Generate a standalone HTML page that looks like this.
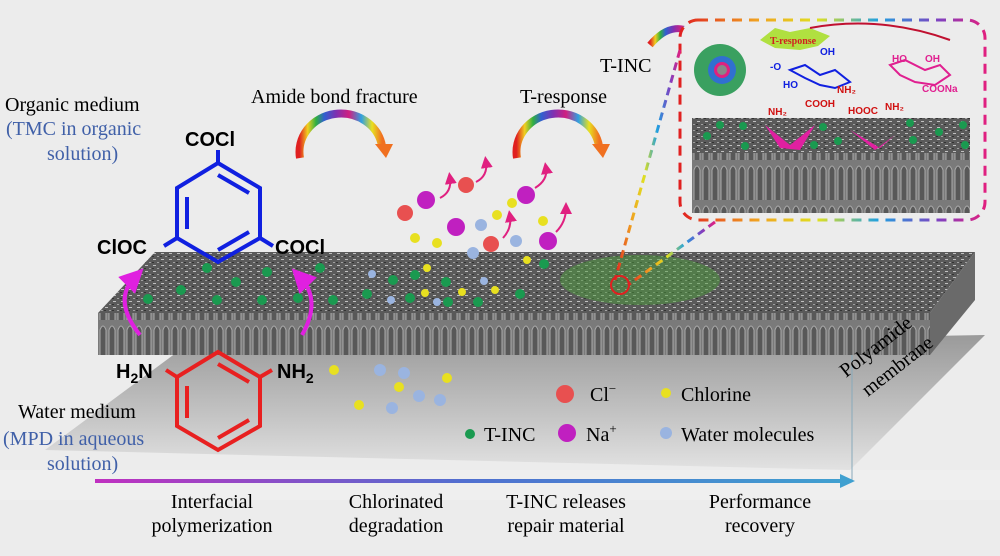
<!DOCTYPE html>
<html><head><meta charset="utf-8"><style>
body{margin:0;background:#ececec}
svg{display:block}
text{font-family:"Liberation Serif",serif}
.b{font-family:"Liberation Sans",sans-serif;font-weight:bold}
</style></head><body>
<svg width="1000" height="556" viewBox="0 0 1000 556" xmlns="http://www.w3.org/2000/svg">
<defs>
<linearGradient id="pl" x1="0" y1="0" x2="0" y2="1"><stop offset="0" stop-color="#9a9a9a"/><stop offset="0.6" stop-color="#c4c4c4"/><stop offset="1" stop-color="#e2e2e2"/></linearGradient>
<linearGradient id="ar" x1="0" x2="1"><stop offset="0" stop-color="#c030c0"/><stop offset="0.5" stop-color="#5070d0"/><stop offset="1" stop-color="#40a0d0"/></linearGradient>
<linearGradient id="rb" x1="0" x2="1"><stop offset="0" stop-color="#e02020"/><stop offset="0.25" stop-color="#f0a020"/><stop offset="0.45" stop-color="#e0e020"/><stop offset="0.65" stop-color="#20a0e0"/><stop offset="0.85" stop-color="#8040c0"/><stop offset="1" stop-color="#e02080"/></linearGradient>
<linearGradient id="arc" x1="0" x2="1"><stop offset="0" stop-color="#e02020"/><stop offset="0.1" stop-color="#f0d020"/><stop offset="0.2" stop-color="#30b040"/><stop offset="0.3" stop-color="#3060d0"/><stop offset="0.45" stop-color="#8030b0"/><stop offset="0.6" stop-color="#d02080"/><stop offset="0.75" stop-color="#30a0e0"/><stop offset="0.88" stop-color="#e8e020"/><stop offset="1" stop-color="#f07020"/></linearGradient>
<pattern id="tx" width="8" height="6" patternUnits="userSpaceOnUse"><rect width="8" height="6" fill="#5a5a5a"/><rect x="1" y="1" width="3" height="1" fill="#c0c0c0"/><rect x="5" y="4" width="2" height="1" fill="#a0a0a0"/><rect x="0" y="4" width="2" height="1" fill="#333"/></pattern>
<pattern id="fr" width="9" height="40" patternUnits="userSpaceOnUse"><rect width="9" height="40" fill="#7a7a7a"/><path d="M1 40 V10 Q4 2 7 10 V40" fill="#585858" stroke="#aaa" stroke-width="1"/></pattern>
<marker id="ah" markerWidth="6" markerHeight="6" refX="3" refY="3" orient="auto"><path d="M0 0L6 3L0 6z" fill="#e020e0"/></marker>
<marker id="sm" markerWidth="6" markerHeight="6" refX="3" refY="3" orient="auto"><path d="M0 0L6 3L0 6z" fill="#e02080"/></marker>
</defs>
<!-- plane -->
<polygon points="180,350 985,335 850,470 45,450" fill="url(#pl)"/>
<rect x="0" y="470" width="1000" height="30" fill="#efefef"/>
<line x1="852" y1="340" x2="852" y2="480" stroke="#8ab" stroke-width="1"/>
<!-- slab -->
<polygon points="98,313 155,252 975,252 930,313" fill="url(#tx)"/>
<rect x="98" y="313" width="832" height="42" fill="url(#fr)"/>
<polygon points="930,313 975,252 975,300 930,355" fill="#6a6a6a"/>
<ellipse cx="640" cy="280" rx="80" ry="25" fill="#4c9c3c" opacity="0.5"/>
<g fill="#1a9a50">
<circle cx="207" cy="268" r="5"/><circle cx="267" cy="272" r="5"/><circle cx="320" cy="268" r="5"/><circle cx="236" cy="282" r="5"/><circle cx="181" cy="290" r="5"/><circle cx="262" cy="300" r="5"/><circle cx="298" cy="298" r="5"/><circle cx="148" cy="299" r="5"/><circle cx="217" cy="300" r="5"/><circle cx="333" cy="300" r="5"/><circle cx="367" cy="294" r="5"/><circle cx="393" cy="280" r="5"/><circle cx="415" cy="275" r="5"/><circle cx="410" cy="298" r="5"/><circle cx="446" cy="282" r="5"/><circle cx="448" cy="302" r="5"/><circle cx="478" cy="302" r="5"/><circle cx="520" cy="294" r="5"/><circle cx="544" cy="264" r="5"/>
</g>
<g fill="#e8e020"><circle cx="427" cy="268" r="4"/><circle cx="425" cy="293" r="4"/><circle cx="462" cy="292" r="4"/><circle cx="495" cy="290" r="4"/><circle cx="527" cy="260" r="4"/></g>
<g fill="#9ab4e0"><circle cx="372" cy="274" r="4"/><circle cx="437" cy="302" r="4"/><circle cx="484" cy="281" r="4"/><circle cx="391" cy="300" r="4"/></g>
<g stroke="#1020e0" stroke-width="4" fill="none">
<polygon points="218,163 260,188 260,238 218,262 177,238 177,188"/>
<line x1="218" y1="175" x2="249" y2="193"/><line x1="187" y1="197" x2="187" y2="229"/><line x1="218" y1="250" x2="249" y2="232"/>
<line x1="218" y1="163" x2="218" y2="150"/><line x1="177" y1="238" x2="164" y2="246"/><line x1="260" y1="238" x2="273" y2="246"/>
</g>
<text class="b" x="185" y="146" font-size="20">COCl</text>
<text class="b" x="97" y="254" font-size="20">ClOC</text>
<text class="b" x="275" y="254" font-size="20">COCl</text>
<g stroke="#e82020" stroke-width="4" fill="none">
<polygon points="218,352 260,377 260,426 218,450 177,426 177,377"/>
<line x1="218" y1="364" x2="249" y2="382"/><line x1="187" y1="386" x2="187" y2="418"/><line x1="218" y1="438" x2="249" y2="420"/>
<line x1="177" y1="377" x2="166" y2="370"/><line x1="260" y1="377" x2="272" y2="370"/>
</g>
<text class="b" x="116" y="378" font-size="20">H<tspan font-size="14" dy="5">2</tspan><tspan dy="-5">N</tspan></text>
<text class="b" x="277" y="378" font-size="20">NH<tspan font-size="14" dy="5">2</tspan></text>
<g stroke="#e020e0" stroke-width="4" fill="none">
<path d="M140 335 Q112 300 135 277" marker-end="url(#ah)"/>
<path d="M302 335 Q322 300 300 277" marker-end="url(#ah)"/>
</g>
<text x="5" y="111" font-size="20">Organic medium</text>
<text x="6" y="135" font-size="20" fill="#4060a8">(TMC in organic</text>
<text x="47" y="160" font-size="20" fill="#4060a8">solution)</text>
<text x="18" y="418" font-size="20">Water medium</text>
<text x="3" y="445" font-size="20" fill="#4060a8">(MPD in aqueous</text>
<text x="47" y="470" font-size="20" fill="#4060a8">solution)</text>
<path d="M300 158 A41 38 0 0 1 382 146" stroke="url(#arc)" stroke-width="8" fill="none"/>
<polygon points="375,144 393,144 386,158" fill="#f07020"/>
<path d="M517 158 A41 38 0 0 1 599 146" stroke="url(#arc)" stroke-width="8" fill="none"/>
<polygon points="592,144 610,144 603,158" fill="#f07020"/>
<path d="M650 45 Q675 15 702 40" stroke="url(#arc)" stroke-width="7" fill="none"/>
<text x="251" y="103" font-size="20">Amide bond fracture</text>
<text x="520" y="103" font-size="20">T-response</text>
<text x="600" y="72" font-size="20">T-INC</text>
<g fill="none" stroke="#e02080" stroke-width="2">
<path d="M476 182 Q488 176 486 162" marker-end="url(#sm)"/>
<path d="M535 188 Q548 180 546 168" marker-end="url(#sm)"/>
<path d="M440 198 Q452 192 450 178" marker-end="url(#sm)"/>
<path d="M556 232 Q566 222 566 208" marker-end="url(#sm)"/>
<path d="M503 238 Q512 228 510 216" marker-end="url(#sm)"/>
</g>
<g><circle cx="405" cy="213" r="8" fill="#e85050"/><circle cx="466" cy="185" r="8" fill="#e85050"/><circle cx="491" cy="244" r="8" fill="#e85050"/>
<circle cx="456" cy="227" r="9" fill="#c020c0"/><circle cx="526" cy="195" r="9" fill="#c020c0"/><circle cx="548" cy="241" r="9" fill="#c020c0"/><circle cx="426" cy="200" r="9" fill="#c020c0"/>
<circle cx="497" cy="215" r="5" fill="#e8e020"/><circle cx="437" cy="243" r="5" fill="#e8e020"/><circle cx="543" cy="221" r="5" fill="#e8e020"/><circle cx="512" cy="203" r="5" fill="#e8e020"/><circle cx="415" cy="238" r="5" fill="#e8e020"/>
<circle cx="473" cy="253" r="6" fill="#9ab4e0"/><circle cx="516" cy="241" r="6" fill="#9ab4e0"/><circle cx="481" cy="225" r="6" fill="#9ab4e0"/></g>
<g fill="#9ab4e0"><circle cx="380" cy="370" r="6"/><circle cx="404" cy="373" r="6"/><circle cx="419" cy="396" r="6"/><circle cx="392" cy="408" r="6"/><circle cx="440" cy="400" r="6"/></g>
<g fill="#e8e020"><circle cx="334" cy="370" r="5"/><circle cx="359" cy="405" r="5"/><circle cx="399" cy="387" r="5"/><circle cx="447" cy="378" r="5"/></g>
<circle cx="565" cy="394" r="9" fill="#e85050"/><text x="590" y="401" font-size="20">Cl<tspan font-size="13" dy="-8">−</tspan></text>
<circle cx="666" cy="393" r="5" fill="#e8e020"/><text x="681" y="401" font-size="20">Chlorine</text>
<circle cx="470" cy="434" r="5" fill="#1a9a50"/><text x="484" y="441" font-size="20">T-INC</text>
<circle cx="567" cy="433" r="9" fill="#c020c0"/><text x="586" y="441" font-size="20">Na<tspan font-size="13" dy="-8">+</tspan></text>
<circle cx="666" cy="433" r="6" fill="#9ab4e0"/><text x="681" y="441" font-size="20">Water molecules</text>
<text x="846" y="378" font-size="20" transform="rotate(-38 846 378)">Polyamide</text>
<text x="868" y="397" font-size="20" transform="rotate(-38 868 397)">membrane</text>
<rect x="95" y="479" width="748" height="4" fill="url(#ar)"/>
<polygon points="840,474 855,481 840,488" fill="#40a0d0"/>
<text x="212" y="508" font-size="20" text-anchor="middle">Interfacial</text>
<text x="212" y="532" font-size="20" text-anchor="middle">polymerization</text>
<text x="396" y="508" font-size="20" text-anchor="middle">Chlorinated</text>
<text x="396" y="532" font-size="20" text-anchor="middle">degradation</text>
<text x="566" y="508" font-size="20" text-anchor="middle">T-INC releases</text>
<text x="566" y="532" font-size="20" text-anchor="middle">repair material</text>
<text x="760" y="508" font-size="20" text-anchor="middle">Performance</text>
<text x="760" y="532" font-size="20" text-anchor="middle">recovery</text>
<rect x="680" y="20" width="305" height="200" rx="18" fill="#ececec" stroke="url(#rb)" stroke-width="3" stroke-dasharray="10 7"/>
<rect x="692" y="118" width="278" height="95" fill="url(#fr)"/>
<rect x="692" y="118" width="278" height="35" fill="url(#tx)"/>
<g fill="#1a9a50"><circle cx="720" cy="125" r="4"/><circle cx="743" cy="126" r="4"/><circle cx="707" cy="136" r="4"/><circle cx="745" cy="146" r="4"/><circle cx="823" cy="127" r="4"/><circle cx="814" cy="145" r="4"/><circle cx="838" cy="141" r="4"/><circle cx="910" cy="123" r="4"/><circle cx="913" cy="140" r="4"/><circle cx="939" cy="132" r="4"/><circle cx="963" cy="125" r="4"/><circle cx="965" cy="145" r="4"/></g>
<polygon points="765,125 790,145 815,125 800,150 780,148" fill="#e020a0"/>
<polygon points="850,130 880,148 895,135 875,150" fill="#e020a0"/>
<circle cx="720" cy="70" r="26" fill="#3aa060"/><circle cx="722" cy="70" r="14" fill="#3070d0"/><circle cx="722" cy="70" r="8" fill="#e02080"/><circle cx="722" cy="70" r="5" fill="#888"/>
<polygon points="760,40 775,28 790,32 810,28 830,36 818,46 800,50 775,48" fill="#b0e040"/>
<text x="770" y="44" font-size="10" font-weight="bold" fill="#d02020">T-response</text>
<path d="M810 28 Q880 15 950 40" stroke="#c01030" stroke-width="2" fill="none"/>
<g stroke="#1020e0" stroke-width="2" fill="none"><path d="M790 70 L805 65 L820 75 L835 70 L850 82 L835 88 L820 85 L805 78z"/></g>
<text x="770" y="70" font-size="10" class="b" fill="#1020e0">-O</text><text x="820" y="55" font-size="10" class="b" fill="#1020e0">OH</text><text x="783" y="88" font-size="10" class="b" fill="#1020e0">HO</text><text x="837" y="93" font-size="10" class="b" fill="#d01010">NH₂</text>
<g stroke="#e02090" stroke-width="2" fill="none"><path d="M890 65 L905 60 L925 70 L940 65 L950 75 L935 85 L915 82 L900 75z"/></g>
<text x="892" y="62" font-size="10" class="b" fill="#e02090">HO</text><text x="925" y="62" font-size="10" class="b" fill="#e02090">OH</text><text x="922" y="92" font-size="10" class="b" fill="#e02090">COONa</text>
<text x="805" y="107" font-size="10" class="b" fill="#d01010">COOH</text><text x="768" y="115" font-size="10" class="b" fill="#d01010">NH₂</text><text x="848" y="114" font-size="10" class="b" fill="#d01010">HOOC</text><text x="885" y="110" font-size="10" class="b" fill="#d01010">NH₂</text>
<line x1="680" y1="50" x2="615" y2="280" stroke="url(#rb)" stroke-width="3" stroke-dasharray="8 5"/>
<line x1="715" y1="222" x2="628" y2="285" stroke="url(#rb)" stroke-width="3" stroke-dasharray="8 5"/>
<circle cx="620" cy="285" r="9" fill="none" stroke="#e02020" stroke-width="2"/>
</svg>
</body></html>
